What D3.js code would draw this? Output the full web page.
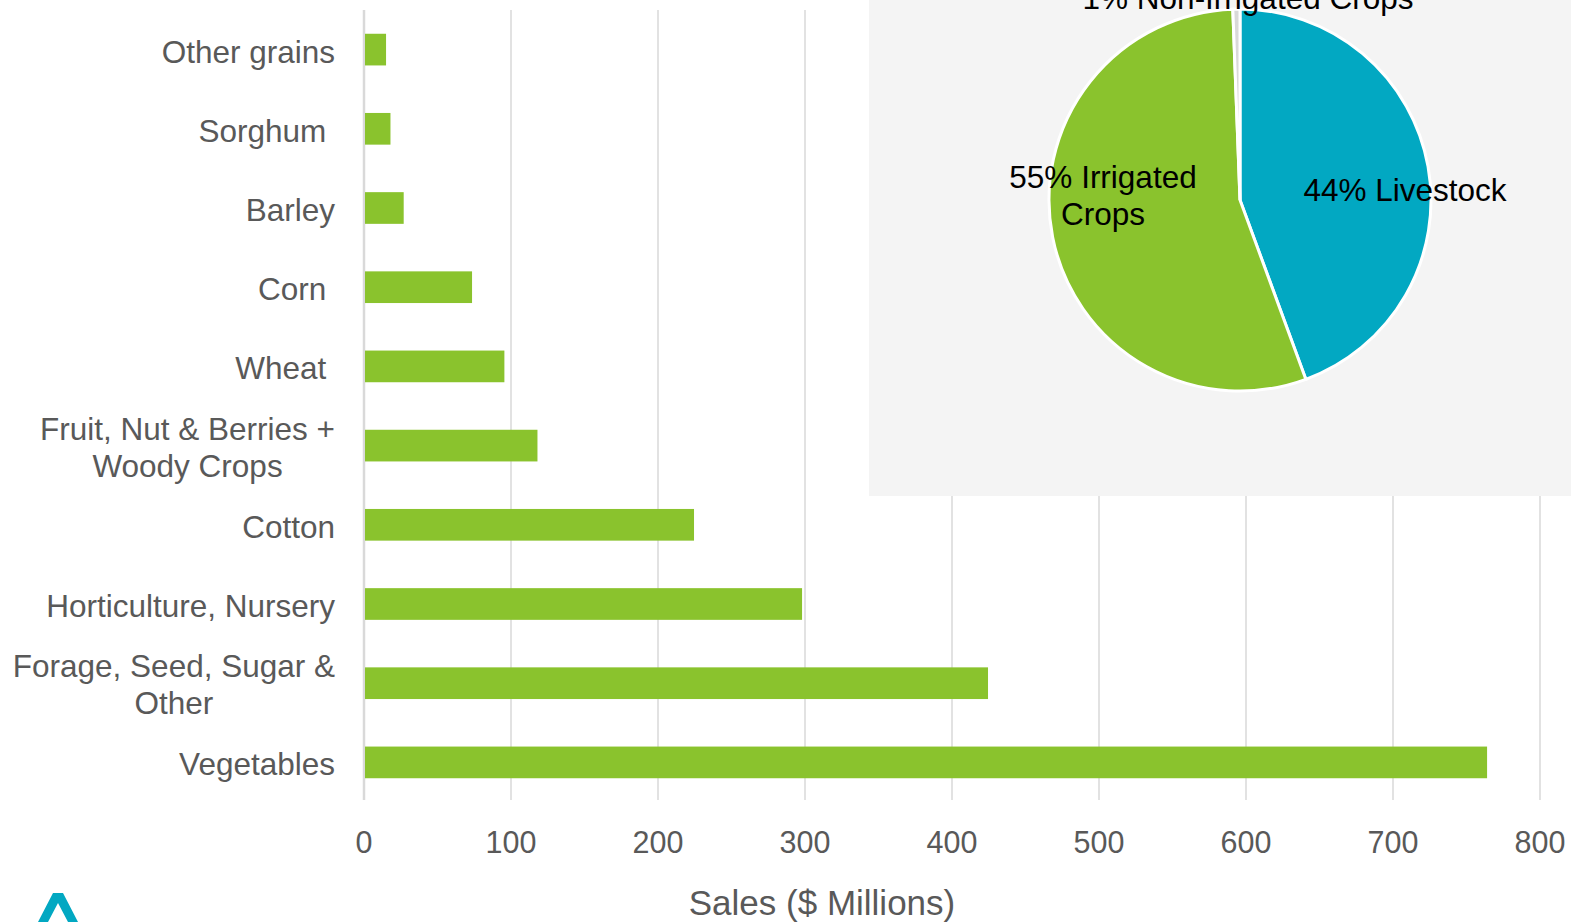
<!DOCTYPE html>
<html>
<head>
<meta charset="utf-8">
<script src="https://cdn.jsdelivr.net/npm/d3@7"></script>
<style>
  body { margin: 0; background: #fff; }
  svg { display: block; font-family: "Liberation Sans", Arial, sans-serif; }
</style>
</head>
<body>
<script>
// bar chart data
var categories = ["Other grains", "Sorghum ", "Barley", "Corn ", "Wheat ",
    "Fruit, Nut & Berries +|Woody Crops", "Cotton", "Horticulture, Nursery",
    "Forage, Seed, Sugar &|Other", "Vegetables"];
var sales = [15, 18, 27, 73.5, 95.5, 118, 224.5, 298, 424.5, 764];
var xTicks = [0, 100, 200, 300, 400, 500, 600, 700, 800];

// pie data (share of sales)
var pieLabels = ["44% Livestock", "55% Irrigated|Crops", "1% Non-Irrigated Crops"];
var pieValues = [44.4, 55.0, 0.6];
var pieColors = ["#02a8c2", "#8ac32d", "#d9d9d9"];

var W = 1571, H = 922;
var margin = { top: 10, right: 31, bottom: 122, left: 364 };

var svg = d3.select("body").append("svg")
    .attr("width", W)
    .attr("height", H);

var g = svg.append("g")
    .attr("transform", "translate(" + margin.left + "," + margin.top + ")");

var x = d3.scaleLinear().domain([0, 800]).range([0, 1176]);
var y = d3.scaleBand().domain(categories).range([0, 792]).paddingInner(0.6).paddingOuter(0.3);

// gridlines
g.selectAll(".grid")
    .data(xTicks)
    .enter()
    .append("line")
    .attr("x1", function (d) { return x(d); })
    .attr("x2", function (d) { return x(d); })
    .attr("y1", 0)
    .attr("y2", 790)
    .attr("stroke", "#d9d9d9")
    .attr("stroke-width", function (d) { return d === 0 ? 2.5 : 1.5; });

// bars
g.selectAll(".bar")
    .data(categories)
    .enter()
    .append("rect")
    .attr("x", x(0) + 1)
    .attr("y", function (d) { return y(d); })
    .attr("width", function (d, i) { return x(sales[i]) - x(0) - 1; })
    .attr("height", y.bandwidth())
    .attr("fill", "#8ac32d");

// category labels
g.selectAll(".cat")
    .data(categories)
    .enter()
    .append("text")
    .attr("x", -29)
    .attr("y", function (d) { return y(d) + y.bandwidth() / 2 + 2; })
    .attr("text-anchor", "end")
    .attr("fill", "#595959")
    .attr("font-size", 31.5)
    .style("white-space", "pre")
    .each(function (d) {
        var lines = d.split("|");
        var t = d3.select(this);
        if (lines.length === 1) {
            t.append("tspan").attr("dy", "0.35em").text(lines[0]);
        } else {
            var first = t.append("tspan").attr("x", -29).attr("dy", "-0.25em").text(lines[0]);
            var w = first.node().getComputedTextLength();
            t.append("tspan")
                .attr("x", -29 - w / 2)
                .attr("text-anchor", "middle")
                .attr("dy", "1.17em")
                .text(lines[1]);
        }
    });

// x tick labels
g.selectAll(".tick")
    .data(xTicks)
    .enter()
    .append("text")
    .attr("x", function (d) { return x(d); })
    .attr("y", 843)
    .attr("text-anchor", "middle")
    .attr("fill", "#595959")
    .attr("font-size", 30.5)
    .text(function (d) { return d; });

svg.append("text")
    .attr("x", 822)
    .attr("y", 915)
    .attr("text-anchor", "middle")
    .attr("fill", "#595959")
    .attr("font-size", 35)
    .text("Sales ($ Millions)");

// inset panel
svg.append("rect")
    .attr("x", 869)
    .attr("y", 0)
    .attr("width", W - 869)
    .attr("height", 496)
    .attr("fill", "#f4f4f4");

var pg = svg.append("g").attr("transform", "translate(1240,200)");
var arcs = d3.pie().sort(null)(pieValues);
var arc = d3.arc().innerRadius(0).outerRadius(191);

pg.selectAll("path")
    .data(arcs)
    .enter()
    .append("path")
    .attr("d", arc)
    .attr("fill", function (d, i) { return pieColors[i]; })
    .attr("stroke", "#fff")
    .attr("stroke-width", 3);

// pie labels
var pieLabelPos = [[165, -10], [-137, -5], [8, -202]];
pg.selectAll(".plab")
    .data(pieLabels)
    .enter()
    .append("text")
    .attr("text-anchor", "middle")
    .attr("font-size", 31.5)
    .attr("fill", "#000")
    .each(function (d, i) {
        var lines = d.split("|");
        var t = d3.select(this);
        lines.forEach(function (l, j) {
            t.append("tspan")
                .attr("x", pieLabelPos[i][0])
                .attr("y", pieLabelPos[i][1] + (j - (lines.length - 1) / 2) * 37)
                .attr("dy", "0.35em")
                .text(l);
        });
    });

// logo corner
svg.append("path")
    .attr("d", "M38,922 L53,893 L63,893 L78,922 L68,922 L58,903 L48,922 Z")
    .attr("fill", "#02a8c2");
</script>
</body>
</html>
